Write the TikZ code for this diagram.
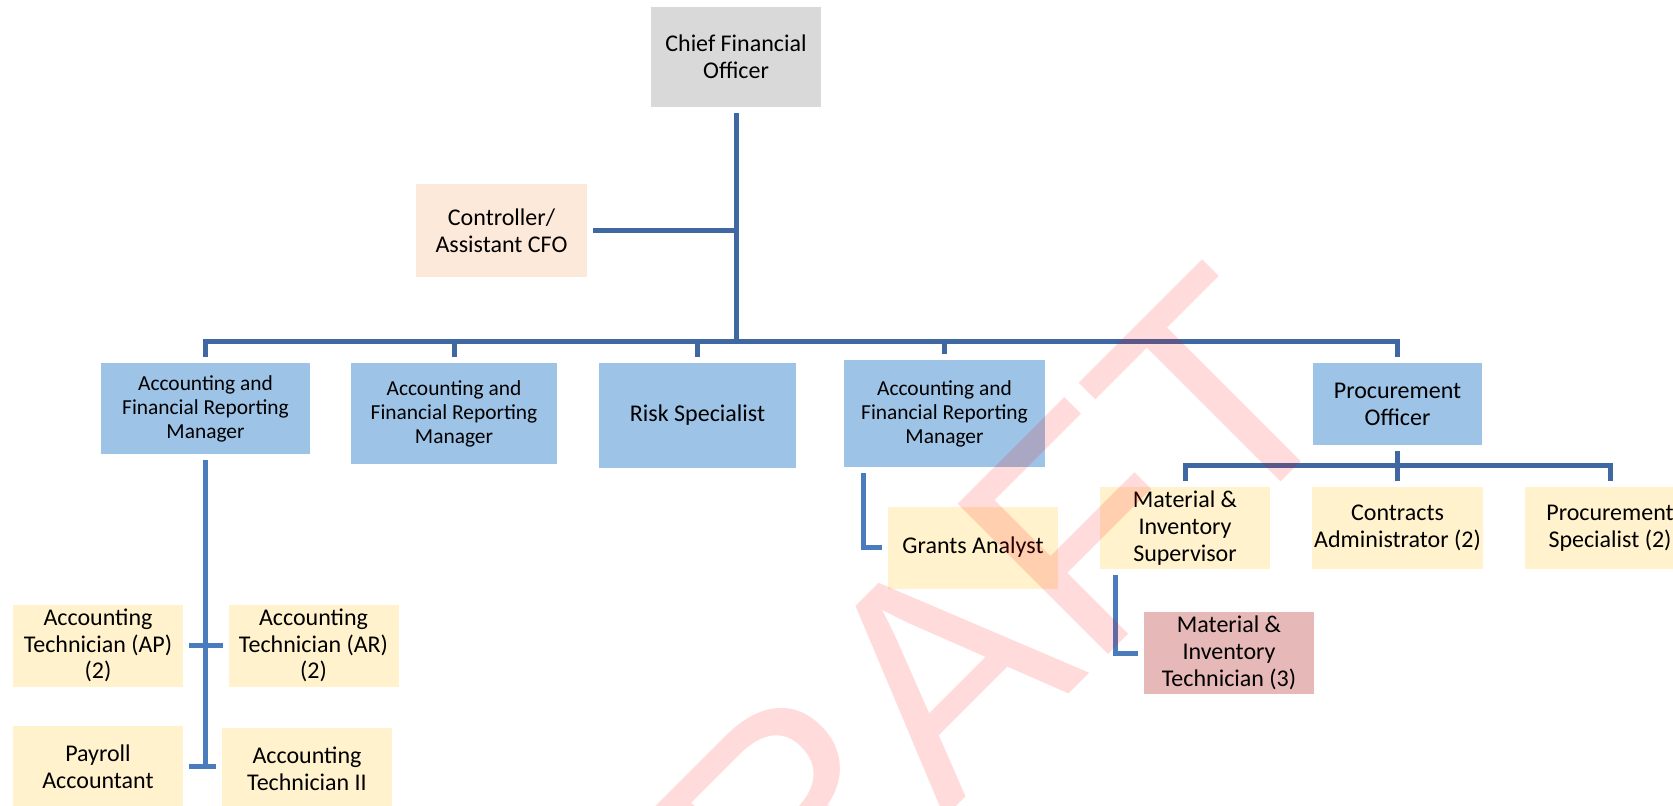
\documentclass[tikz,border=0pt]{standalone}
\usepackage{fontspec}
\setmainfont{Carlito}
\newfontfamily\draftfont{Liberation Sans}
\definecolor{cfogray}{HTML}{D9D9D9}
\definecolor{ctrlpeach}{HTML}{FDE9D9}
\definecolor{mgrblue}{HTML}{9DC3E6}
\definecolor{staffyellow}{HTML}{FFF2CC}
\definecolor{techrose}{HTML}{E6B8B7}
\definecolor{linkblue}{HTML}{3F67A2}
\definecolor{sublinkblue}{HTML}{4A7BBD}
\tikzset{
  box/.style={inner sep=1pt,outer sep=3pt,align=center,font=\fontsize{12}{13.4}\selectfont},
  mgr/.style={box,fill=mgrblue},
  staff/.style={box,fill=staffyellow,minimum width=85pt,minimum height=41pt},
  mgrtext/.style={font=\fontsize{10.7}{12}\selectfont},
  link/.style={draw=linkblue,line width=2.5pt},
  sublink/.style={draw=sublinkblue,line width=2.5pt}
}
\begin{document}
\begin{tikzpicture}[x=0.5pt,y=-0.5pt,line join=miter]
			\useasboundingbox (0,0) rectangle (1673,806);
			
			% top of the chart
			\node[box,fill=cfogray,minimum width=85pt,minimum height=50pt] (cfo) at (736,57) {Chief Financial\\Officer};
			\node[box,fill=ctrlpeach,minimum width=85.5pt,minimum height=46.5pt] (ctrl) at (501.5,230.5) {Controller/\\Assistant CFO};
			
			% managers
			\node[mgr,mgrtext,minimum width=104.5pt,minimum height=45.5pt] (afrm1) at (205.5,408.5) {Accounting and\\Financial Reporting\\Manager};
			\node[mgr,mgrtext,minimum width=103pt,minimum height=50.5pt] (afrm2) at (454,413.5) {Accounting and\\Financial Reporting\\Manager};
			\node[mgr,minimum width=98.5pt,minimum height=52.5pt] (risk) at (697.5,415.5) {Risk Specialist};
			\node[mgr,mgrtext,minimum width=100.5pt,minimum height=53.5pt] (afrm3) at (944.5,413.5) {Accounting and\\Financial Reporting\\Manager};
			\node[mgr,minimum width=84.5pt,minimum height=41pt] (proc) at (1397.5,404) {Procurement\\Officer};
			
			% staff
			\node[staff] (apt) at (98,645.5) {Accounting\\Technician (AP)\\(2)};
			\node[staff] (art) at (313.5,645.5) {Accounting\\Technician (AR)\\(2)};
			\node[staff] (payroll) at (98,766.5) {Payroll\\Accountant};
			\node[staff] (tech2) at (307,768.5) {Accounting\\Technician II};
			\node[staff] (grants) at (973,547.5) {Grants Analyst};
			\node[staff] (mis) at (1185,528) {Material \&\\Inventory\\Supervisor};
			\node[staff] (contracts) at (1397.5,528) {Contracts\\Administrator (2)};
			\node[staff] (pspec) at (1610,528) {Procurement\\Specialist (2)};
			\node[staff,fill=techrose] (mit) at (1229,653) {Material \&\\Inventory\\Technician (3)};
			
			\coordinate (bus) at (736,342);
			\coordinate (subbus) at (1397.5,465);
			
			% connectors
			\draw[link] (cfo.south) -- (bus);
			\draw[link] (ctrl.east) -- (ctrl.east -| cfo.south);
			\draw[link] (afrm1.north) -- (afrm1.north |- bus) -- (proc.north |- bus) -- (proc.north);
			\foreach \n in {afrm2,risk,afrm3}
			\draw[link] (\n.north) -- (\n.north |- bus);
			
			\draw[sublink] (afrm1.south) -- (afrm1.south |- payroll.east);
			\draw[sublink] (apt.east) -- (art.west);
			\draw[sublink] (payroll.east) -- (payroll.east -| tech2.west);
			
			\draw[sublink] ([xshift=12.5pt]afrm3.south west) |- (grants.west);
			
			\draw[link] (proc.south) -- (subbus);
			\draw[link] (mis.north) -- (mis.north |- subbus) -- (pspec.north |- subbus) -- (pspec.north);
			\draw[link] (contracts.north) -- (subbus);
			\draw[sublink] ([xshift=10.5pt]mis.south west) |- (mit.west);
			
			% watermark
			\node[font=\draftfont\fontsize{154.5}{154.5}\selectfont,text=red,text opacity=0.14,rotate=45,anchor=base east,inner sep=0pt] (draft) at (1358,405) {DRAFT};
		\end{tikzpicture}
\end{document}
